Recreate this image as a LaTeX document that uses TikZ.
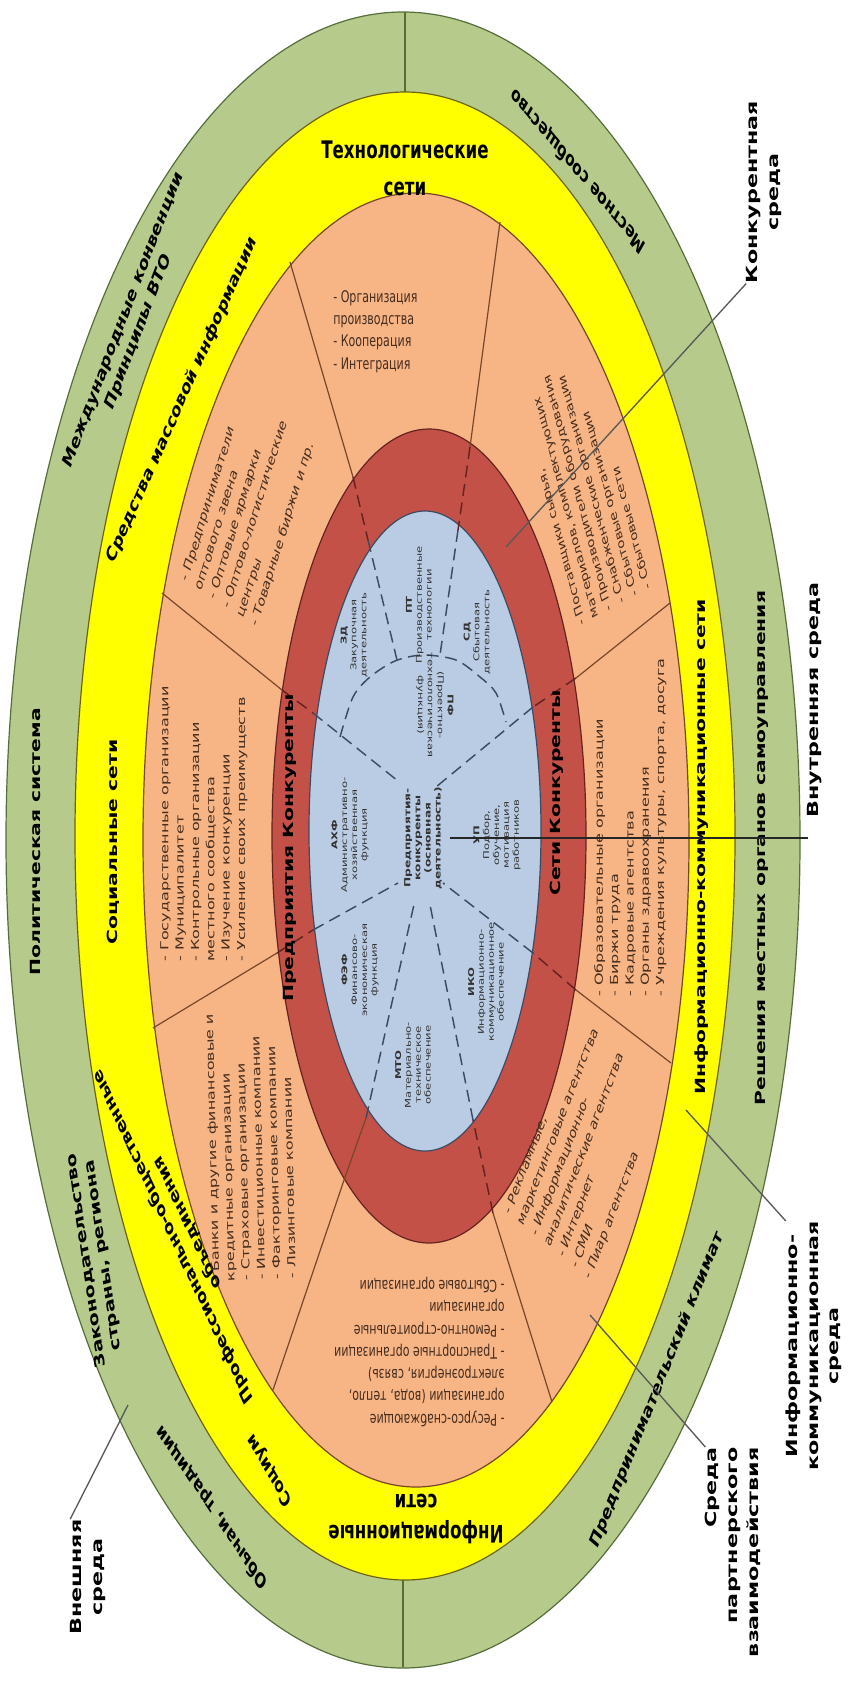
\documentclass[tikz,border=0pt]{standalone}
\usepackage{fontspec}
\setmainfont{DejaVu Sans}
\usetikzlibrary{positioning}

\definecolor{envgreen}{RGB}{181,202,139}
\definecolor{netyellow}{RGB}{255,255,0}
\definecolor{partorange}{RGB}{247,181,134}
\definecolor{rivalred}{RGB}{196,81,72}
\definecolor{coreblue}{RGB}{186,204,228}
\definecolor{greenedge}{RGB}{86,110,58}
\definecolor{yellowedge}{RGB}{110,100,20}
\definecolor{orangeedge}{RGB}{120,70,40}
\definecolor{rededge}{RGB}{100,35,30}
\definecolor{blueedge}{RGB}{60,75,100}
\definecolor{itemtext}{RGB}{70,45,30}

\begin{document}
\begin{tikzpicture}[x=0.75pt,y=-0.75pt,
  ring/.style={line width=0.9pt},
  txt/.style={inner sep=0pt,align=center,yscale=1.45},
  ringtext/.style={txt,font=\bfseries\fontsize{10.5}{13}\selectfont},
  outtext/.style={txt,font=\bfseries\fontsize{11.5}{15.5}\selectfont},
  items/.style={txt,align=left,text=itemtext,font=\fontsize{8.3}{11.5}\selectfont},
  coretext/.style={txt,text=black!80,font=\fontsize{6}{7.4}\selectfont},
  divider/.style={draw=orangeedge,line width=0.9pt},
  dashline/.style={draw=rededge,line width=1.1pt,dash pattern=on 9pt off 5pt},
  coredash/.style={draw=blueedge,line width=1.1pt,dash pattern=on 9pt off 5pt},
  callout/.style={draw=black!65,line width=1pt}]
\useasboundingbox (0,0) rectangle (847,1684);

% rings
\path[fill=envgreen,draw=greenedge,ring] (403,840) ellipse [x radius=397,y radius=828];
\draw[greenedge,ring] (405,12) -- (405,92) (403,1580) -- (403,1667);
\path[fill=netyellow,draw=yellowedge,ring] (405,836) ellipse [x radius=330,y radius=744];
\path[fill=partorange,draw=orangeedge,ring] (416,840) ellipse [x radius=273,y radius=647];
\path[fill=rivalred,draw=rededge,ring] (429,836) ellipse [x radius=157,y radius=407];
\path[fill=coreblue,draw=blueedge,ring] (425,831) ellipse [x radius=116,y radius=320];

% sectors of the partner ring
\draw[divider] (290,262) -- (353,477);
\draw[divider] (500,222) -- (470,447);
\draw[divider] (162,593) -- (282,690);
\draw[divider] (670,603) -- (576,678);
\draw[divider] (153,1028) -- (277,953);
\draw[divider] (671,1063) -- (576,990);
\draw[divider] (273,1390) -- (343,1183) -- (366,1118);
\draw[divider] (552,1402) -- (493,1213);
\draw[dashline] (353,477) -- (368,540);
\draw[dashline] (470,447) -- (458,530);
\draw[dashline] (282,690) -- (313,713);
\draw[dashline] (576,678) -- (533,707);
\draw[dashline] (277,953) -- (313,930);
\draw[dashline] (576,990) -- (533,953);
\draw[dashline] (493,1213) -- (473,1120);

% sectors of the core
\draw[coredash] (368,540) -- (397,660);
\draw[coredash] (458,530) -- (440,655);
\draw[coredash] (313,713) -- (398,781);
\draw[coredash] (533,707) -- (436,787);
\draw[coredash] (313,930) -- (398,883);
\draw[coredash] (533,953) -- (443,883);
\draw[coredash] (366,1118) -- (415,900);
\draw[coredash] (473,1120) -- (430,905);
\draw[coredash] plot[smooth] coordinates {(340,737) (353,697) (370,677) (395,661) (423,655) (456,660) (480,677) (496,693) (506,722)};

% outer ring
\node (intl)  [ringtext,rotate=60.9] at (131,326) {Международные конвенции\\Принципы ВТО};
\node (polit) [ringtext,rotate=90]   at (35,842)  {Политическая система};
\node (law)   [ringtext,rotate=101.5] at (95,1258) {Законодательство\\страны, региона};
\node (custom)[ringtext,rotate=134.4] at (212,1507) {Обычаи, традиции};
\node (climate)[ringtext,rotate=59.6] at (657,1390) {Предпринимательский климат};
\node (selfgov)[ringtext,rotate=90]  at (762,848) {Решения местных органов самоуправления};
\node (local) [ringtext,rotate=140.6] at (578,171) {Местное сообщество};

% network ring
\node (technet)[txt,font=\bfseries\fontsize{12.5}{19}\selectfont] at (405,168) {Технологические\\сети};
\node (media) [ringtext,rotate=57.2] at (182,400) {Средства массовой информации};
\node (social)[ringtext,rotate=90] at (113,842) {Социальные сети};
\node (prof)  [ringtext,rotate=124] at (180,1230) {Профессионально-общественные\\объединения};
\node (socium)[ringtext,rotate=130] at (270,1470) {Социум};
\node (ictnet)[ringtext,rotate=90] at (702,847) {Информационно-коммуникационные сети};
\node (infonet)[txt,font=\bfseries\fontsize{12.5}{16}\selectfont,rotate=180] at (416,1519) {Информационные\\сети};

% competitor ring
\node (firms) [ringtext,rotate=90] at (290,848) {Предприятия Конкуренты};
\node (nets)  [ringtext,rotate=90] at (557,793) {Сети Конкуренты};

% partner sectors
\node (prod)  [items,anchor=north west] at (333,290) {- Организация\\производства\\- Кооперация\\- Интеграция};
\node (whole) [items,rotate=66,anchor=north west] at (180,578) {- Предприниматели\\оптового звена\\- Оптовые ярмарки\\- Оптово-логистические\\центры\\- Товарные биржи и пр.};
\node (supply)[items,font=\fontsize{7.8}{10.5}\selectfont,rotate=111] at (584,490) {- Поставщики сырья,\\материалов, комплектующих\\- Производители оборудования\\- Снабженческие организации\\- Сбытовые организации\\- Сбытовые сети};
\node (state) [items,rotate=90,anchor=north west] at (160,962) {- Государственные организации\\- Муниципалитет\\- Контрольные организации\\местного сообщества\\- Изучение конкуренции\\- Усиление своих преимуществ};
\node (edu)   [items,rotate=90,anchor=north west] at (594,997) {- Образовательные организации\\- Биржи труда\\- Кадровые агентства\\- Органы здравоохранения\\- Учреждения культуры, спорта, досуга};
\node (banks) [items,rotate=92,anchor=north west] at (211,1283) {- Банки и другие финансовые и\\кредитные организации\\- Страховые организации\\- Инвестиционные компании\\- Факторинговые компании\\- Лизинговые компании};
\node (infra) [items,rotate=180,anchor=north west] at (505,1427) {- Ресурсо-снабжающие\\организации (вода, тепло,\\электроэнергия, связь)\\- Транспортные организации\\- Ремонтно-строительные\\организации\\- Сбытовые организации};
\node (ads)   [items,rotate=60.9,anchor=north west] at (503,1210) {- Рекламные,\\маркетинговые агентства\\- Информационно-\\аналитические агентства\\- Интернет\\- СМИ\\- Пиар агентства};

% core
\node (core)  [coretext,font=\bfseries\fontsize{6.3}{7.6}\selectfont,rotate=90] at (423,838) {Предприятия-\\конкуренты\\(основная\\деятельность)};
\node (zd)    [coretext,rotate=90] at (354,635) {\textbf{ЗД}\\Закупочная\\деятельность};
\node (pt)    [coretext,rotate=90] at (419,605) {\textbf{ПТ}\\Производственные\\технологии};
\node (sd)    [coretext,rotate=90] at (477,632) {\textbf{СД}\\Сбытовая\\деятельность};
\node (pf)    [coretext,rotate=-90] at (435,705) {\textbf{ПФ}\\(Проектно-\\технологическая\\функция)};
\node (ahf)   [coretext,rotate=90] at (350,835) {\textbf{АХФ}\\Административно-\\хозяйственная\\функция};
\node (hr)    [coretext,rotate=90] at (497,835) {\textbf{УП}\\Подбор,\\обучение,\\мотивация\\работников};
\node (fef)   [coretext,rotate=90] at (360,970) {\textbf{ФЭФ}\\Финансово-\\экономическая\\функция};
\node (iko)   [coretext,rotate=90] at (486,982) {\textbf{ИКО}\\Информационно-\\коммуникационное\\обеспечение};
\node (mto)   [coretext,rotate=90] at (413,1065) {\textbf{МТО}\\Материально-\\техническое\\обеспечение};

% callouts
\node (compenv)[outtext,rotate=90] at (764,192) {Конкурентная\\среда};
\node (inenv)  [outtext,rotate=90] at (815,700) {Внутренняя среда};
\node (ictenv) [outtext,rotate=90] at (814,1346) {Информационно-\\коммуникационная\\среда};
\node (partenv)[outtext,rotate=90,align=right,anchor=east] at (733,1447) {Среда\\партнерского\\взаимодействия};
\node (outenv) [outtext,rotate=90] at (88,1577) {Внешняя\\среда};

\coordinate (compend) at (506,547);
\coordinate (inend) at (450,838);
\coordinate (ictend) at (686,1110);
\coordinate (partend) at (590,1315);
\coordinate (outend) at (128,1405);
\draw[callout] (compenv.north west) -- (compend);
\draw[callout,line width=1.5pt,black!85] (inenv.north west |- inend) -- (inend);
\draw[callout] (ictenv.north east) -- (ictend);
\draw[callout] (partenv.north east) -- (partend);
\draw[callout] (outenv.north east) -- (outend);
\end{tikzpicture}
\end{document}
